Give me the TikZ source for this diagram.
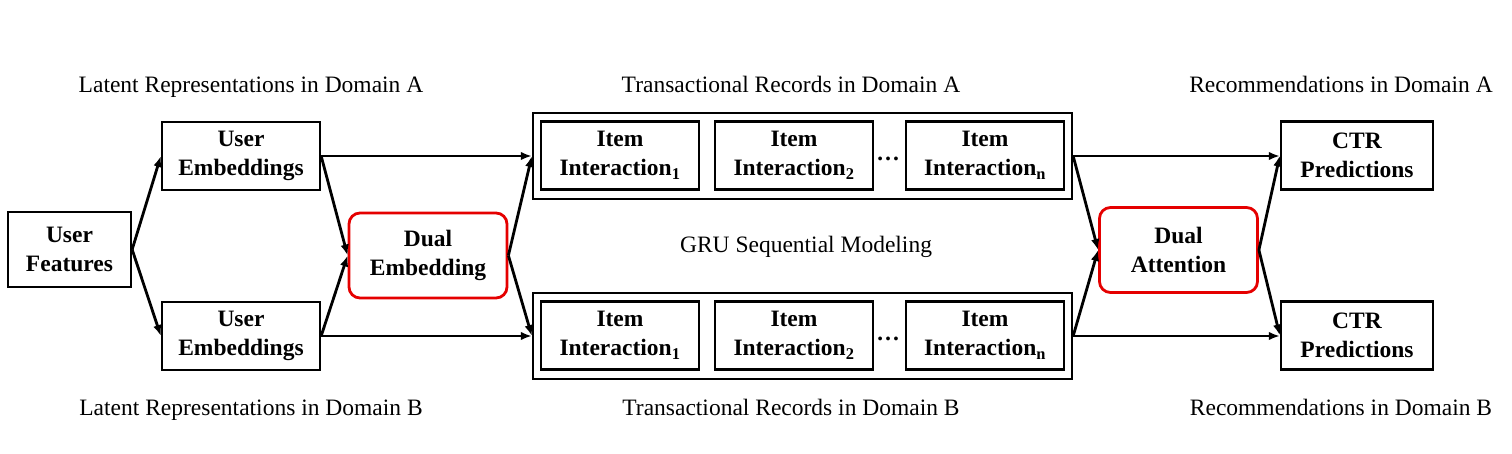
\documentclass[tikz,border=0pt]{standalone}
\usepackage{fontspec}
\setmainfont{Liberation Serif}
\usetikzlibrary{arrows.meta}
\begin{document}
\begin{tikzpicture}[x=1pt,y=-1pt,
  box/.style={draw=black,line width=2.3pt,minimum width=#1,align=center,inner sep=0pt,
    font=\fontsize{23.5}{29}\selectfont\bfseries},
  box/.default=158pt,
  redbox/.style={draw=red!90!black,line width=2.8pt,rounded corners=11pt,minimum width=158pt,minimum height=85pt,
    align=center,inner sep=0pt,font=\fontsize{23.5}{29}\selectfont\bfseries},
  outer/.style={draw=black,line width=2.3pt,inner sep=0pt},
  lbl/.style={font=\fontsize{23.5}{28}\selectfont,inner sep=0pt,anchor=base},
  arr/.style={line width=2.8pt,-{Latex[length=11pt,width=8.5pt]}},
]
\useasboundingbox (0,0) rectangle (1512,454);
% left
\node[box=123pt,minimum height=75pt] (uf) at (69.5,249.5) {User\\Features};
\node[box,minimum height=68pt] (ue1) at (241,156) {User\\Embeddings};
\node[box,minimum height=68pt] (ue2) at (241,336) {User\\Embeddings};
\node[redbox] (de) at (428,255.5) {Dual\\Embedding};
% outer boxes
\node[outer,minimum width=539pt,minimum height=86pt] (oa) at (802.5,156) {};
\node[outer,minimum width=539pt,minimum height=86pt] (ob) at (802.5,336) {};
% items top
\node[box,minimum height=68pt] (a1) at (620,155.5) {Item\\Interaction\textsubscript{1}};
\node[box,minimum height=68pt] (a2) at (794,155.5) {Item\\Interaction\textsubscript{2}};
\node[box,minimum height=68pt] (an) at (985,155.5) {Item\\Interaction\textsubscript{n}};
\node[font=\fontsize{23.5}{28}\selectfont\bfseries,inner sep=0pt] (adots) at (888,159) {\dots};
% items bottom
\node[box,minimum height=68pt] (b1) at (620,335.5) {Item\\Interaction\textsubscript{1}};
\node[box,minimum height=68pt] (b2) at (794,335.5) {Item\\Interaction\textsubscript{2}};
\node[box,minimum height=68pt] (bn) at (985,335.5) {Item\\Interaction\textsubscript{n}};
\node[font=\fontsize{23.5}{28}\selectfont\bfseries,inner sep=0pt] (bdots) at (888,339) {\dots};
% right
\node[redbox] (da) at (1178.5,250) {Dual\\Attention};
\node[box=152pt,minimum height=68pt] (c1) at (1357,155.5) {CTR\\Predictions};
\node[box=152pt,minimum height=68pt] (c2) at (1357,335.5) {CTR\\Predictions};
% labels
\node[lbl] (l1) at (251,93) {Latent Representations in Domain A};
\node[lbl] (l2) at (251,415) {Latent Representations in Domain B};
\node[lbl] (l3) at (791,93) {Transactional Records in Domain A};
\node[lbl] (l4) at (791,415) {Transactional Records in Domain B};
\node[lbl] (l5) at (1341,93) {Recommendations in Domain A};
\node[lbl] (l6) at (1341,415) {Recommendations in Domain B};
\node[lbl] (gru) at (806,253) {GRU Sequential Modeling};
% coordinates on outer boxes
\coordinate (oaw) at (oa.west);
\coordinate (obw) at (ob.west);
\coordinate (oae) at (oa.east);
\coordinate (obe) at (ob.east);
% arrows
\draw[arr] (uf.east) -- (ue1.west);
\draw[arr] (uf.east) -- (ue2.west);
\draw[arr] (ue1.east) -- (oaw);
\draw[arr] (ue2.east) -- (obw);
\draw[arr] (ue1.east) -- (de.west);
\draw[arr] (ue2.east) -- (de.west);
\draw[arr] (de.east) -- (oaw);
\draw[arr] (de.east) -- (obw);
\draw[arr] (oae) -- (c1.west |- oae);
\draw[arr] (obe) -- (c2.west |- obe);
\draw[arr] (oae) -- (da.west);
\draw[arr] (obe) -- (da.west);
\draw[arr] (da.east) -- (c1.west);
\draw[arr] (da.east) -- (c2.west);
\end{tikzpicture}
\end{document}
